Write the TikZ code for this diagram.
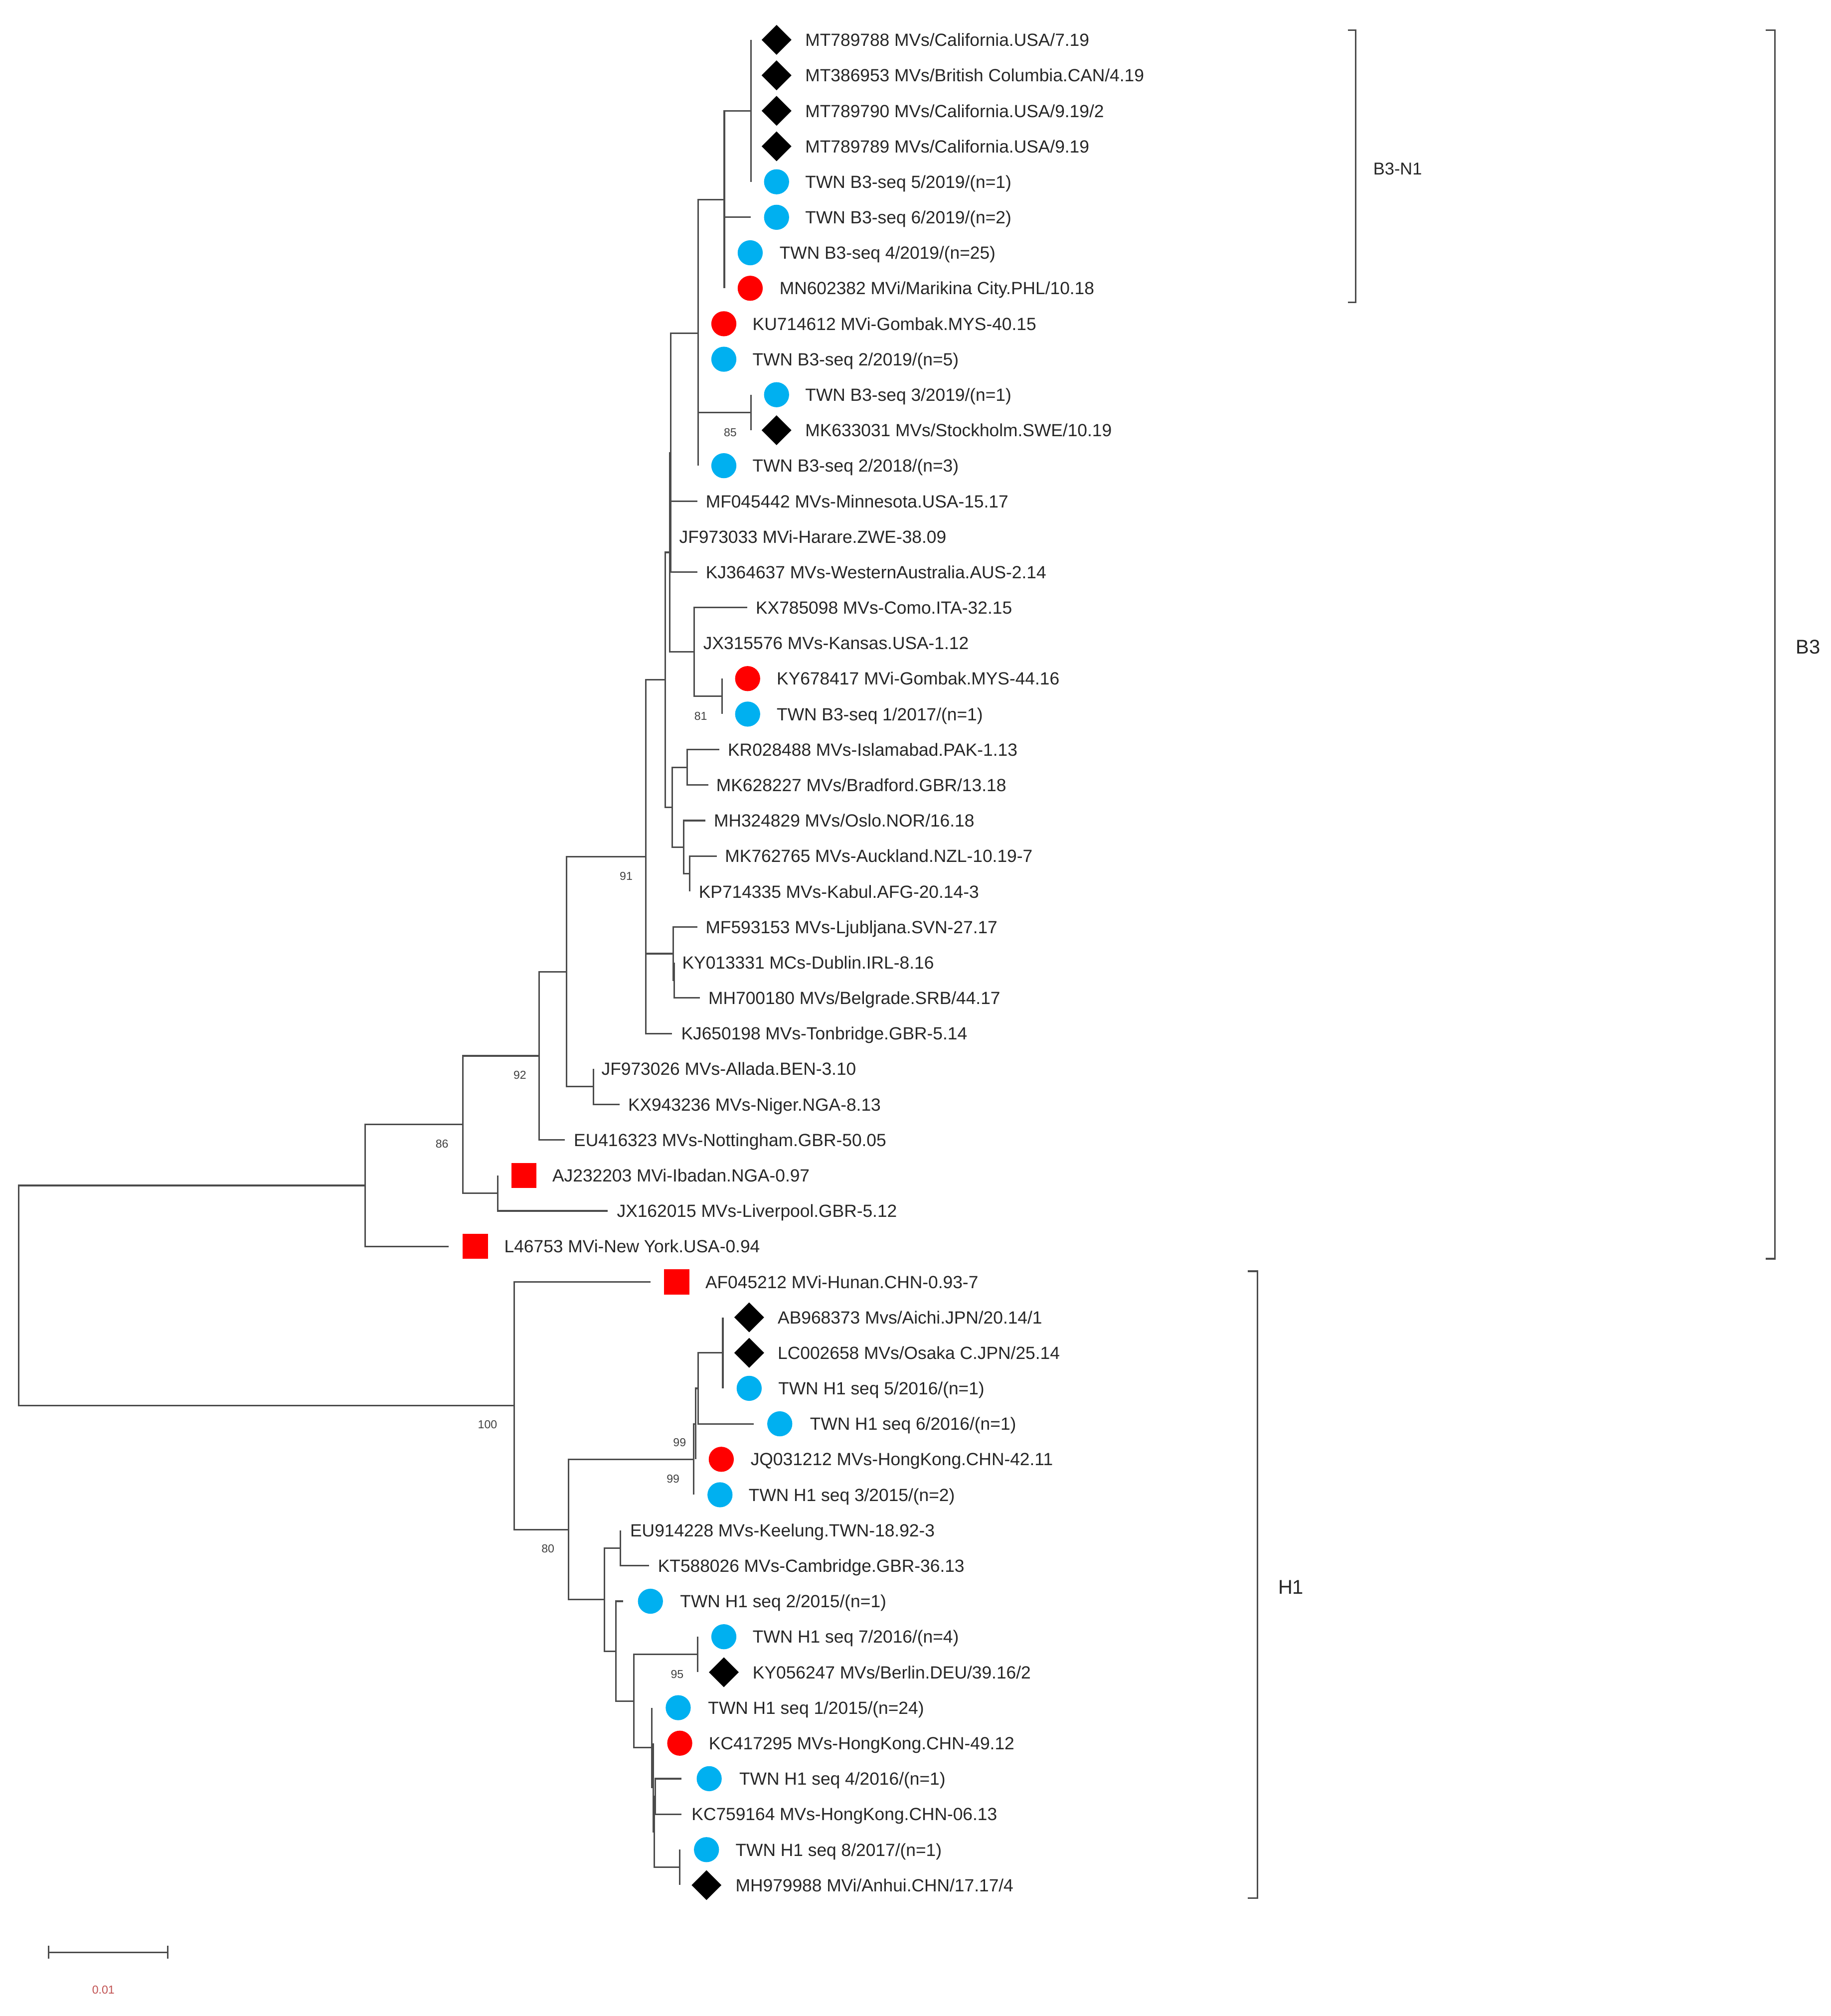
\documentclass[tikz,border=0pt]{standalone}
\usepackage{fontspec}
\setmainfont{Liberation Sans}
\usetikzlibrary{shapes.geometric}
\definecolor{twnblue}{RGB}{0,176,240}
\definecolor{scalered}{RGB}{192,80,80}

\begin{document}
\begin{tikzpicture}[x=0.02cm, y=-0.02cm,
    branch/.style={draw=black!70, line width=0.7pt},
    twn/.style={circle, fill=twnblue, inner sep=0pt, minimum size=0.39cm},
    refc/.style={circle, fill=red, inner sep=0pt, minimum size=0.39cm},
    wrs/.style={rectangle, fill=red, inner sep=0pt, minimum size=0.39cm},
    dia/.style={diamond, fill=black, inner sep=0pt, minimum width=0.47cm, minimum height=0.47cm},
    lab/.style={anchor=west, inner sep=0pt, text=black!85, font=\fontsize{7.8}{9}\selectfont, text height=5.6pt, text depth=0pt},
    boot/.style={inner sep=0pt, text=black!75, font=\fontsize{5.1}{6}\selectfont},
    clade/.style={anchor=west, inner sep=0pt, text=black!85, font=\fontsize{8.8}{10}\selectfont, text height=6.3pt, text depth=0pt}]

    \useasboundingbox (0,0) rectangle (1424,1568);

    % Root and the two genotypes
    \coordinate (root) at (14.5,1007.7);
    \coordinate (b3root) at (284,922);
    \coordinate (h1root) at (400,1093.3);

    % Internal nodes of genotype B3
    \coordinate (b3core) at (360,874.6);
    \coordinate (ibadan) at (387,928);
    \coordinate (b3mid) at (419.3,821.2);
    \coordinate (b3up) at (440.6,755.8);
    \coordinate (allada) at (461.5,845.2);
    \coordinate (b3main) at (502.3,666.3);
    \coordinate (ljub) at (523.5,741.7);
    \coordinate (dublin) at (524.3,762.4);
    \coordinate (g1) at (517.4,528.8);
    \coordinate (g2) at (520.8,429.6);
    \coordinate (g4) at (521.6,352.2);
    \coordinate (n1) at (543,259.3);
    \coordinate (n2) at (563.4,155.2);
    \coordinate (n3) at (584,86.2);
    \coordinate (n85) at (584,320.8);
    \coordinate (kansas) at (540,507.1);
    \coordinate (n81) at (561.7,541.6);
    \coordinate (g3) at (522.8,627.9);
    \coordinate (isl) at (534.5,596.8);
    \coordinate (oslo) at (531.8,658.9);
    \coordinate (kabul) at (536.4,679.6);

    % Internal nodes of genotype H1
    \coordinate (h1a) at (442.2,1189.6);
    \coordinate (h99a) at (539.6,1135);
    \coordinate (h99b) at (541,1107.4);
    \coordinate (jpn) at (542.9,1079.8);
    \coordinate (aichi) at (562.2,1052.2);
    \coordinate (h1b) at (470.2,1244.1);
    \coordinate (keel) at (482.4,1204);
    \coordinate (h1c) at (479.2,1284.2);
    \coordinate (h1d) at (493.1,1323);
    \coordinate (n95) at (542.7,1286.8);
    \coordinate (hk1) at (507.1,1359.3);
    \coordinate (hk2) at (508,1390.3);
    \coordinate (hk3) at (509,1424.8);
    \coordinate (hk4) at (509.6,1397.2);
    \coordinate (anhui) at (528.7,1452.4);

    % Tips of the leaves
    \coordinate (t0) at (584,31.0);
    \coordinate (t1) at (584,58.6);
    \coordinate (t2) at (584,86.2);
    \coordinate (t3) at (584,113.8);
    \coordinate (t4) at (584,141.4);
    \coordinate (t5) at (584,169.0);
    \coordinate (t6) at (563.4,196.6);
    \coordinate (t7) at (563.4,224.2);
    \coordinate (t8) at (543,251.8);
    \coordinate (t9) at (543,279.4);
    \coordinate (t10) at (584,307.0);
    \coordinate (t11) at (584,334.6);
    \coordinate (t12) at (543,362.2);
    \coordinate (t13) at (542.6,389.8);
    \coordinate (t14) at (521.6,417.4);
    \coordinate (t15) at (542.6,445.0);
    \coordinate (t16) at (581.3,472.6);
    \coordinate (t17) at (540,500.2);
    \coordinate (t18) at (561.7,527.8);
    \coordinate (t19) at (561.7,555.4);
    \coordinate (t20) at (559.5,583.0);
    \coordinate (t21) at (550.8,610.6);
    \coordinate (t22) at (548.6,638.2);
    \coordinate (t23) at (557.6,665.8);
    \coordinate (t24) at (536.4,693.4);
    \coordinate (t25) at (542.3,721.0);
    \coordinate (t26) at (524.3,748.6);
    \coordinate (t27) at (544.5,776.2);
    \coordinate (t28) at (522.7,803.8);
    \coordinate (t29) at (461.5,831.4);
    \coordinate (t30) at (481.9,859.0);
    \coordinate (t31) at (439.2,886.6);
    \coordinate (t32) at (387,914.2);
    \coordinate (t33) at (472.6,941.8);
    \coordinate (t34) at (349,969.4);
    \coordinate (t35) at (506,997.0);
    \coordinate (t36) at (562.2,1024.6);
    \coordinate (t37) at (562.2,1052.2);
    \coordinate (t38) at (562.2,1079.8);
    \coordinate (t39) at (586.3,1107.4);
    \coordinate (t40) at (541,1135.0);
    \coordinate (t41) at (539.6,1162.6);
    \coordinate (t42) at (482.4,1190.2);
    \coordinate (t43) at (505,1217.8);
    \coordinate (t44) at (484.8,1245.4);
    \coordinate (t45) at (542.7,1273.0);
    \coordinate (t46) at (542.7,1300.6);
    \coordinate (t47) at (507.1,1328.2);
    \coordinate (t48) at (508,1355.8);
    \coordinate (t49) at (530.2,1383.4);
    \coordinate (t50) at (530.2,1411.0);
    \coordinate (t51) at (528.7,1438.6);
    \coordinate (t52) at (528.7,1466.2);

    % Branches
    \draw[branch] (root) |- (b3root) (root) |- (h1root);
    \draw[branch] (b3root) |- (b3core) (b3root) |- (t34);
    \draw[branch] (b3core) |- (b3mid) (b3core) |- (ibadan);
    \draw[branch] (ibadan) |- (t32) (ibadan) |- (t33);
    \draw[branch] (b3mid) |- (b3up) (b3mid) |- (t31);
    \draw[branch] (b3up) |- (b3main) (b3up) |- (allada);
    \draw[branch] (allada) |- (t29) (allada) |- (t30);
    \draw[branch] (b3main) |- (g1) (b3main) |- (ljub) (b3main) |- (t28);
    \draw[branch] (ljub) |- (t25) (ljub) |- (dublin);
    \draw[branch] (dublin) |- (t26) (dublin) |- (t27);
    \draw[branch] (g1) |- (g2) (g1) |- (g3);
    \draw[branch] (g2) |- (g4) (g2) |- (kansas);
    \draw[branch] (g4) |- (n1) (g4) |- (t13) (g4) |- (t14) (g4) |- (t15);
    \draw[branch] (n1) |- (n2) (n1) |- (t8) (n1) |- (t9) (n1) |- (n85) (n1) |- (t12);
    \draw[branch] (n2) |- (n3) (n2) |- (t5) (n2) |- (t6) (n2) |- (t7);
    \draw[branch] (n3) |- (t0) (n3) |- (t1) (n3) |- (t3) (n3) |- (t4);
    \draw[branch] (n85) |- (t10) (n85) |- (t11);
    \draw[branch] (kansas) |- (t16) (kansas) |- (t17) (kansas) |- (n81);
    \draw[branch] (n81) |- (t18) (n81) |- (t19);
    \draw[branch] (g3) |- (isl) (g3) |- (oslo);
    \draw[branch] (isl) |- (t20) (isl) |- (t21);
    \draw[branch] (oslo) |- (t22) (oslo) |- (kabul);
    \draw[branch] (kabul) |- (t23) (kabul) |- (t24);
    \draw[branch] (h1root) |- (t35) (h1root) |- (h1a);
    \draw[branch] (h1a) |- (h99a) (h1a) |- (h1b);
    \draw[branch] (h99a) |- (h99b) (h99a) |- (t41);
    \draw[branch] (h99b) |- (jpn) (h99b) |- (t40);
    \draw[branch] (jpn) |- (aichi) (jpn) |- (t39);
    \draw[branch] (aichi) |- (t36) (aichi) |- (t38);
    \draw[branch] (h1b) |- (keel) (h1b) |- (h1c);
    \draw[branch] (keel) |- (t42) (keel) |- (t43);
    \draw[branch] (h1c) |- (t44) (h1c) |- (h1d);
    \draw[branch] (h1d) |- (n95) (h1d) |- (hk1);
    \draw[branch] (n95) |- (t45) (n95) |- (t46);
    \draw[branch] (hk1) |- (t47) (hk1) |- (hk2);
    \draw[branch] (hk2) |- (t48) (hk2) |- (hk3);
    \draw[branch] (hk3) |- (hk4) (hk3) |- (anhui);
    \draw[branch] (hk4) |- (t49) (hk4) |- (t50);
    \draw[branch] (anhui) |- (t51) (anhui) |- (t52);

    % Bootstrap values
    \node[boot] (bs85) at (568,336.5) {85};
    \node[boot] (bs81) at (545,557) {81};
    \node[boot] (bs91) at (487,681.5) {91};
    \node[boot] (bs92) at (404.4,836.2) {92};
    \node[boot] (bs86) at (343.8,889.6) {86};
    \node[boot] (bs100) at (379.2,1107.8) {100};
    \node[boot] (bs99a) at (528.6,1122) {99};
    \node[boot] (bs99b) at (523.5,1150.3) {99};
    \node[boot] (bs80) at (426.2,1204.4) {80};
    \node[boot] (bs95) at (526.7,1302.3) {95};

    % Symbols
    \node[dia] (m0) at (604,31.0) {};
    \node[dia] (m1) at (604,58.6) {};
    \node[dia] (m2) at (604,86.2) {};
    \node[dia] (m3) at (604,113.8) {};
    \node[twn] (m4) at (604,141.4) {};
    \node[twn] (m5) at (604,169.0) {};
    \node[twn] (m6) at (583.5,196.6) {};
    \node[refc] (m7) at (583.5,224.2) {};
    \node[refc] (m8) at (563,251.8) {};
    \node[twn] (m9) at (563,279.4) {};
    \node[twn] (m10) at (604,307.0) {};
    \node[dia] (m11) at (604,334.6) {};
    \node[twn] (m12) at (563,362.2) {};
    \node[refc] (m18) at (581.5,527.8) {};
    \node[twn] (m19) at (581.5,555.4) {};
    \node[wrs] (m32) at (407.5,914.2) {};
    \node[wrs] (m34) at (369.7,969.4) {};
    \node[wrs] (m35) at (526.3,997.0) {};
    \node[dia] (m36) at (582.7,1024.6) {};
    \node[dia] (m37) at (582.7,1052.2) {};
    \node[twn] (m38) at (582.7,1079.8) {};
    \node[twn] (m39) at (606.5,1107.4) {};
    \node[refc] (m40) at (561,1135.0) {};
    \node[twn] (m41) at (560,1162.6) {};
    \node[twn] (m44) at (505.9,1245.4) {};
    \node[twn] (m45) at (563,1273.0) {};
    \node[dia] (m46) at (563,1300.6) {};
    \node[twn] (m47) at (527.5,1328.2) {};
    \node[refc] (m48) at (528.7,1355.8) {};
    \node[twn] (m49) at (551.6,1383.4) {};
    \node[twn] (m51) at (549.5,1438.6) {};
    \node[dia] (m52) at (549.5,1466.2) {};

    % Leaf labels
    \node[lab] (l0) at (626,31.0) {MT789788 MVs/California.USA/7.19};
    \node[lab] (l1) at (626,58.6) {MT386953 MVs/British Columbia.CAN/4.19};
    \node[lab] (l2) at (626,86.2) {MT789790 MVs/California.USA/9.19/2};
    \node[lab] (l3) at (626,113.8) {MT789789 MVs/California.USA/9.19};
    \node[lab] (l4) at (626,141.4) {TWN B3-seq 5/2019/(n=1)};
    \node[lab] (l5) at (626,169.0) {TWN B3-seq 6/2019/(n=2)};
    \node[lab] (l6) at (606,196.6) {TWN B3-seq 4/2019/(n=25)};
    \node[lab] (l7) at (606,224.2) {MN602382 MVi/Marikina City.PHL/10.18};
    \node[lab] (l8) at (585,251.8) {KU714612 MVi-Gombak.MYS-40.15};
    \node[lab] (l9) at (585,279.4) {TWN B3-seq 2/2019/(n=5)};
    \node[lab] (l10) at (626,307.0) {TWN B3-seq 3/2019/(n=1)};
    \node[lab] (l11) at (626,334.6) {MK633031 MVs/Stockholm.SWE/10.19};
    \node[lab] (l12) at (585,362.2) {TWN B3-seq 2/2018/(n=3)};
    \node[lab] (l13) at (548.6,389.8) {MF045442 MVs-Minnesota.USA-15.17};
    \node[lab] (l14) at (528,417.4) {JF973033 MVi-Harare.ZWE-38.09};
    \node[lab] (l15) at (548.6,445.0) {KJ364637 MVs-WesternAustralia.AUS-2.14};
    \node[lab] (l16) at (587.5,472.6) {KX785098 MVs-Como.ITA-32.15};
    \node[lab] (l17) at (546.7,500.2) {JX315576 MVs-Kansas.USA-1.12};
    \node[lab] (l18) at (603.8,527.8) {KY678417 MVi-Gombak.MYS-44.16};
    \node[lab] (l19) at (603.8,555.4) {TWN B3-seq 1/2017/(n=1)};
    \node[lab] (l20) at (565.8,583.0) {KR028488 MVs-Islamabad.PAK-1.13};
    \node[lab] (l21) at (556.8,610.6) {MK628227 MVs/Bradford.GBR/13.18};
    \node[lab] (l22) at (554.9,638.2) {MH324829 MVs/Oslo.NOR/16.18};
    \node[lab] (l23) at (563.6,665.8) {MK762765 MVs-Auckland.NZL-10.19-7};
    \node[lab] (l24) at (543.2,693.4) {KP714335 MVs-Kabul.AFG-20.14-3};
    \node[lab] (l25) at (548.5,721.0) {MF593153 MVs-Ljubljana.SVN-27.17};
    \node[lab] (l26) at (530.3,748.6) {KY013331 MCs-Dublin.IRL-8.16};
    \node[lab] (l27) at (550.7,776.2) {MH700180 MVs/Belgrade.SRB/44.17};
    \node[lab] (l28) at (529.5,803.8) {KJ650198 MVs-Tonbridge.GBR-5.14};
    \node[lab] (l29) at (467.5,831.4) {JF973026 MVs-Allada.BEN-3.10};
    \node[lab] (l30) at (488.2,859.0) {KX943236 MVs-Niger.NGA-8.13};
    \node[lab] (l31) at (446,886.6) {EU416323 MVs-Nottingham.GBR-50.05};
    \node[lab] (l32) at (429.3,914.2) {AJ232203 MVi-Ibadan.NGA-0.97};
    \node[lab] (l33) at (479.5,941.8) {JX162015 MVs-Liverpool.GBR-5.12};
    \node[lab] (l34) at (391.9,969.4) {L46753 MVi-New York.USA-0.94};
    \node[lab] (l35) at (548.3,997.0) {AF045212 MVi-Hunan.CHN-0.93-7};
    \node[lab] (l36) at (604.6,1024.6) {AB968373 Mvs/Aichi.JPN/20.14/1};
    \node[lab] (l37) at (604.6,1052.2) {LC002658 MVs/Osaka C.JPN/25.14};
    \node[lab] (l38) at (605,1079.8) {TWN H1 seq 5/2016/(n=1)};
    \node[lab] (l39) at (629.7,1107.4) {TWN H1 seq 6/2016/(n=1)};
    \node[lab] (l40) at (583.5,1135.0) {JQ031212 MVs-HongKong.CHN-42.11};
    \node[lab] (l41) at (582,1162.6) {TWN H1 seq 3/2015/(n=2)};
    \node[lab] (l42) at (489.8,1190.2) {EU914228 MVs-Keelung.TWN-18.92-3};
    \node[lab] (l43) at (511.4,1217.8) {KT588026 MVs-Cambridge.GBR-36.13};
    \node[lab] (l44) at (528.7,1245.4) {TWN H1 seq 2/2015/(n=1)};
    \node[lab] (l45) at (585.1,1273.0) {TWN H1 seq 7/2016/(n=4)};
    \node[lab] (l46) at (585.1,1300.6) {KY056247 MVs/Berlin.DEU/39.16/2};
    \node[lab] (l47) at (550.4,1328.2) {TWN H1 seq 1/2015/(n=24)};
    \node[lab] (l48) at (551,1355.8) {KC417295 MVs-HongKong.CHN-49.12};
    \node[lab] (l49) at (574.7,1383.4) {TWN H1 seq 4/2016/(n=1)};
    \node[lab] (l50) at (537.6,1411.0) {KC759164 MVs-HongKong.CHN-06.13};
    \node[lab] (l51) at (571.8,1438.6) {TWN H1 seq 8/2017/(n=1)};
    \node[lab] (l52) at (571.8,1466.2) {MH979988 MVi/Anhui.CHN/17.17/4};

    % Clade brackets
    \coordinate (n1top) at (1054.5,23.4);
    \coordinate (n1bot) at (1054.5,235);
    \coordinate (b3top) at (1380.5,23.4);
    \coordinate (b3bot) at (1380.5,979);
    \coordinate (h1top) at (978.1,988.7);
    \coordinate (h1bot) at (978.1,1476.4);
    \draw[branch] (n1top) ++(-6,0) -- (n1top) -- (n1bot) -- ++(-6,0);
    \draw[branch] (b3top) ++(-7,0) -- (b3top) -- (b3bot) -- ++(-7,0);
    \draw[branch] (h1top) ++(-7.5,0) -- (h1top) -- (h1bot) -- ++(-7.5,0);
    \node[lab, font=\fontsize{7.6}{9}\selectfont] (cN1) at (1067.8,131) {B3-N1};
    \node[clade] (cB3) at (1396.5,502.8) {B3};
    \node[clade] (cH1) at (993.8,1234.3) {H1};

    % Scale bar
    \coordinate (sbL) at (37.9,1518.4);
    \coordinate (sbR) at (130.5,1518.4);
    \draw[branch] (sbL) -- (sbR);
    \draw[branch] (sbL) ++(0,-5) -- ++(0,10);
    \draw[branch] (sbR) ++(0,-5) -- ++(0,10);
    \node[boot, text=scalered] (sbT) at (80.4,1547.7) {0.01};

\end{tikzpicture}
\end{document}
